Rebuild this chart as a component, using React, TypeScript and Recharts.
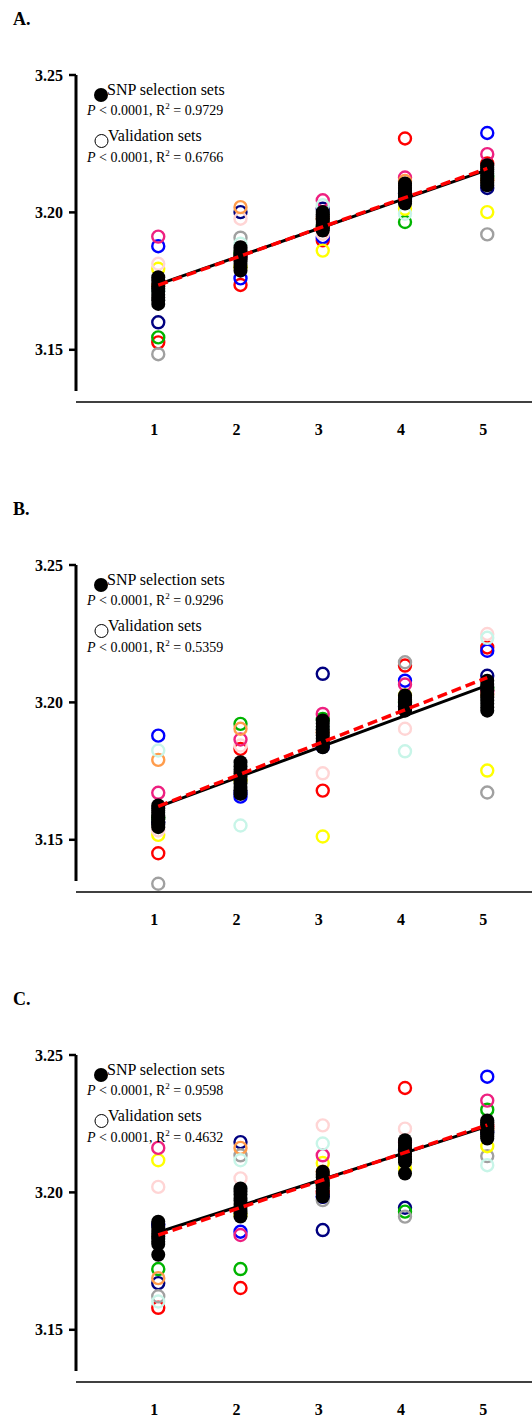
import { ScatterChart, Scatter, XAxis, YAxis, ReferenceLine } from "recharts";

const SERIF = "'Liberation Serif', 'Times New Roman', serif";

const xValues = [1, 2, 3, 4, 5];
const yTicks = [3.15, 3.2, 3.25];

// validation set colours, same order as the rows of valA / valB / valC
const setColors = [
  "#ff0000", // red
  "#0000ff", // blue
  "#000080", // navy
  "#00b400", // green
  "#a0a0a0", // gray
  "#ffff00", // yellow
  "#ffd5d5", // light pink
  "#ee2080", // deep pink
  "#ff9c4c", // orange
  "#c8f5e8", // aqua
];

const panelLabels = ["A.", "B.", "C."];
const snpR2 = ["0.9729", "0.9296", "0.9598"];
const valR2 = ["0.6766", "0.5359", "0.4632"];

// SNP selection sets: one list per x position
const snpA = [
  [3.1764, 3.1752, 3.174, 3.173, 3.1722, 3.1712, 3.17, 3.169, 3.168, 3.1667],
  [3.1873, 3.1862, 3.1853, 3.1845, 3.1838, 3.183, 3.1822, 3.1812, 3.18, 3.1788],
  [3.2001, 3.1993, 3.1985, 3.1978, 3.1972, 3.1965, 3.1958, 3.195, 3.1942, 3.1934],
  [3.2105, 3.2097, 3.2089, 3.208, 3.2072, 3.2064, 3.2056, 3.2048, 3.204, 3.2032],
  [3.2172, 3.2165, 3.2157, 3.2149, 3.2141, 3.2133, 3.2125, 3.2116, 3.2108, 3.2099],
];
const snpB = [
  [3.1625, 3.1615, 3.1606, 3.1598, 3.159, 3.1582, 3.1574, 3.1565, 3.1556, 3.1546],
  [3.1782, 3.1768, 3.1755, 3.1742, 3.173, 3.1718, 3.1705, 3.1692, 3.168, 3.1667],
  [3.1934, 3.1923, 3.1912, 3.1901, 3.189, 3.188, 3.1869, 3.1858, 3.1848, 3.1837],
  [3.2025, 3.2018, 3.201, 3.2003, 3.1997, 3.199, 3.1984, 3.1978, 3.1974, 3.197],
  [3.2079, 3.2067, 3.2055, 3.2043, 3.2031, 3.2019, 3.2007, 3.1995, 3.1982, 3.197],
];
const snpC = [
  [3.1893, 3.1885, 3.1872, 3.186, 3.185, 3.184, 3.183, 3.182, 3.1812, 3.1773],
  [3.2014, 3.2003, 3.1992, 3.198, 3.197, 3.1958, 3.1947, 3.1936, 3.1924, 3.1912],
  [3.2075, 3.2065, 3.2055, 3.2045, 3.2035, 3.2025, 3.2015, 3.2005, 3.1994, 3.1984],
  [3.219, 3.218, 3.217, 3.216, 3.215, 3.214, 3.213, 3.212, 3.211, 3.2069],
  [3.2262, 3.2255, 3.2248, 3.224, 3.2233, 3.2226, 3.2218, 3.2211, 3.2204, 3.2196],
];

// validation sets: one list per colour, values at x = 1..5
const valA = [
  [3.1527, 3.1736, 3.1898, 3.2269, 3.2178],
  [3.1877, 3.176, 3.191, 3.205, 3.2289],
  [3.16, 3.2001, 3.2013, 3.207, 3.2089],
  [3.1545, 3.185, 3.195, 3.1965, 3.213],
  [3.1484, 3.1908, 3.199, 3.204, 3.192],
  [3.1795, 3.18, 3.1861, 3.2013, 3.2001],
  [3.1813, 3.1977, 3.1922, 3.209, 3.212],
  [3.1912, 3.1837, 3.2044, 3.2127, 3.2212],
  [3.1734, 3.2019, 3.1977, 3.2114, 3.2117],
  [3.1715, 3.1886, 3.2026, 3.1995, 3.214],
];
const valB = [
  [3.1451, 3.1831, 3.1679, 3.2134, 3.22],
  [3.1879, 3.1657, 3.1839, 3.2079, 3.2188],
  [3.1564, 3.1672, 3.2104, 3.1985, 3.2097],
  [3.158, 3.1922, 3.194, 3.2, 3.205],
  [3.134, 3.172, 3.19, 3.2146, 3.1672],
  [3.1518, 3.1716, 3.1512, 3.2025, 3.1752],
  [3.1534, 3.1843, 3.1742, 3.1904, 3.2249],
  [3.1671, 3.1865, 3.1958, 3.2065, 3.204],
  [3.1791, 3.1904, 3.189, 3.201, 3.203],
  [3.1825, 3.1552, 3.191, 3.1822, 3.2235],
];
const valC = [
  [3.158, 3.1652, 3.2, 3.238, 3.224],
  [3.1882, 3.1857, 3.1984, 3.2153, 3.2421],
  [3.167, 3.2183, 3.1863, 3.1944, 3.222],
  [3.1721, 3.1721, 3.203, 3.193, 3.2301],
  [3.1622, 3.2135, 3.1972, 3.1912, 3.2132],
  [3.2117, 3.1918, 3.2107, 3.2087, 3.2168],
  [3.202, 3.2051, 3.2244, 3.2232, 3.225],
  [3.2162, 3.1845, 3.2135, 3.2183, 3.2334],
  [3.1688, 3.2162, 3.2075, 3.215, 3.223],
  [3.1603, 3.2117, 3.2178, 3.212, 3.2099],
];

// fitted lines, value at x = 1 and x = 5
const fitSnpA = [3.1738, 3.2155];
const fitValA = [3.1735, 3.216];
const fitSnpB = [3.162, 3.2062];
const fitValB = [3.1622, 3.209];
const fitSnpC = [3.1855, 3.224];
const fitValC = [3.1845, 3.2245];

const openCircle = (color: string) => (props: any) =>
  <circle cx={props.cx} cy={props.cy} r={6} fill="none" stroke={color} strokeWidth={2.4} />;

const filledCircle = (props: any) =>
  <circle cx={props.cx} cy={props.cy} r={7} fill="#000" />;

const noShape = () => <g />;

function XTick(props: any) {
  const { x, y, payload } = props;
  return (
    <text x={x - 4} y={y + 25} textAnchor="middle" fontFamily={SERIF} fontSize={16} fontWeight={700} fill="#000">
      {payload.value}
    </text>
  );
}

function Panel({
  idx,
  snp,
  val,
  fitSnp,
  fitVal,
}: {
  idx: number;
  snp: number[][];
  val: number[][];
  fitSnp: number[];
  fitVal: number[];
}) {
  const snpPoints = snp.flatMap((col, i) => col.map((y) => ({ x: xValues[i], y })));
  const fitEnds = (f: number[]) => [
    { x: xValues[0], y: f[0] },
    { x: xValues[xValues.length - 1], y: f[1] },
  ];

  return (
    <div style={{ position: "relative", width: 532, height: 490 }}>
      <ScatterChart width={532} height={490} margin={{ top: 75, right: 0, bottom: 58, left: 0 }}>
        <XAxis
          type="number"
          dataKey="x"
          domain={[0, 5.544]}
          ticks={xValues}
          axisLine={{ stroke: "#000", strokeWidth: 1.5 }}
          tickLine={false}
          height={30}
          tick={<XTick />}
          allowDataOverflow
        />
        <YAxis
          type="number"
          dataKey="y"
          domain={[3.131, 3.25]}
          ticks={yTicks}
          width={76}
          axisLine={false}
          tickLine={{ stroke: "#000", strokeWidth: 2.5 }}
          tickSize={7}
          tickMargin={6}
          tickFormatter={(v: number) => v.toFixed(2)}
          tick={{ fill: "#000", fontSize: 16, fontWeight: 700, fontFamily: SERIF }}
          allowDataOverflow
        />
        <ReferenceLine
          segment={[
            { x: 0, y: 3.25 },
            { x: 0, y: 3.135 },
          ]}
          stroke="#000"
          strokeWidth={3}
        />
        {val.map((vals, c) => (
          <Scatter
            key={c}
            data={vals.map((y, i) => ({ x: xValues[i], y }))}
            shape={openCircle(setColors[c])}
            isAnimationActive={false}
          />
        ))}
        <Scatter data={snpPoints} shape={filledCircle} isAnimationActive={false} />
        <Scatter
          data={fitEnds(fitSnp)}
          line={{ stroke: "#000", strokeWidth: 3 }}
          shape={noShape}
          isAnimationActive={false}
        />
        <Scatter
          data={fitEnds(fitVal)}
          line={{ stroke: "#ff0000", strokeWidth: 3.5, strokeDasharray: "10 5" }}
          shape={noShape}
          isAnimationActive={false}
        />
      </ScatterChart>
      <svg
        width={532}
        height={490}
        style={{ position: "absolute", left: 0, top: 0, pointerEvents: "none" }}
        fontFamily={SERIF}
      >
        <text x={13} y={25} fontSize={18} fontWeight={700}>{panelLabels[idx]}</text>
        <circle cx={101} cy={95} r={7} fill="#000" />
        <text x={107} y={95} fontSize={16}>SNP selection sets</text>
        <text x={87} y={115} fontSize={14}>
          <tspan fontStyle="italic">P</tspan> &lt; 0.0001, R<tspan dy={-6} fontSize={9}>2</tspan>
          <tspan dy={6}> = {snpR2[idx]}</tspan>
        </text>
        <circle cx={101.5} cy={141} r={6.5} fill="none" stroke="#000" strokeWidth={1} />
        <text x={108} y={141} fontSize={16}>Validation sets</text>
        <text x={87} y={162} fontSize={14}>
          <tspan fontStyle="italic">P</tspan> &lt; 0.0001, R<tspan dy={-6} fontSize={9}>2</tspan>
          <tspan dy={6}> = {valR2[idx]}</tspan>
        </text>
      </svg>
    </div>
  );
}

export default function App() {
  return (
    <div style={{ position: "absolute", left: 0, top: 0, width: 532, height: 1416, background: "#fff" }}>
      <Panel idx={0} snp={snpA} val={valA} fitSnp={fitSnpA} fitVal={fitValA} />
      <Panel idx={1} snp={snpB} val={valB} fitSnp={fitSnpB} fitVal={fitValB} />
      <Panel idx={2} snp={snpC} val={valC} fitSnp={fitSnpC} fitVal={fitValC} />
    </div>
  );
}
